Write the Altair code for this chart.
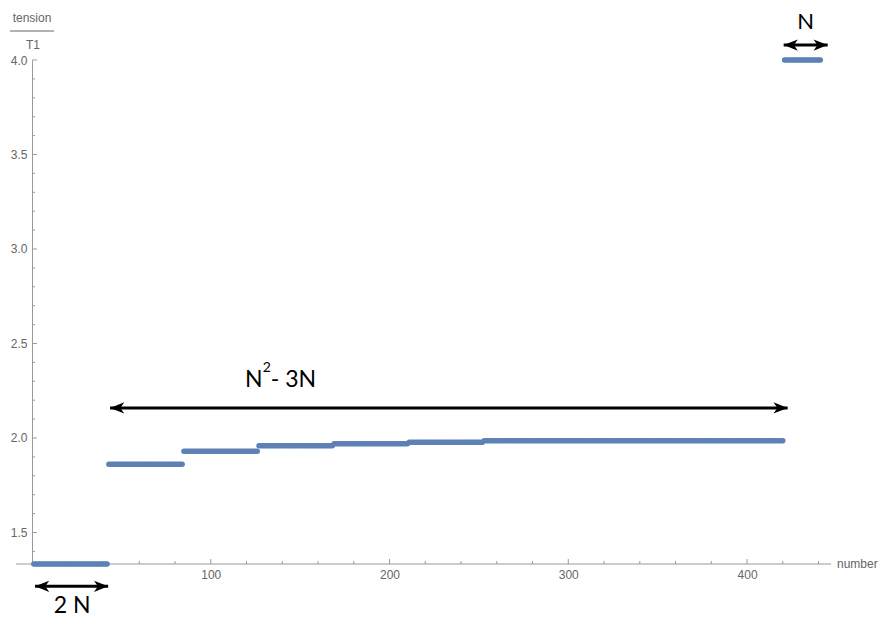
import altair as alt
import pandas as pd

# ---- data ----
seg_values = [1.3333, 1.861, 1.930, 1.959, 1.970, 1.978, 1.986, 4.0]
seg_counts = [42, 42, 42, 42, 42, 42, 168, 21]

x_major = [100, 200, 300, 400]
x_minor = [20, 40, 60, 80, 120, 140, 160, 180, 220, 240, 260, 280,
           320, 340, 360, 380, 420, 440]
y_major = [1.5, 2.0, 2.5, 3.0, 3.5, 4.0]
y_minor = [1.4, 1.6, 1.7, 1.8, 1.9, 2.1, 2.2, 2.3, 2.4, 2.6, 2.7, 2.8, 2.9,
           3.1, 3.2, 3.3, 3.4, 3.6, 3.7, 3.8, 3.9]

arrow_x1 = [1.7, 43.7, 420.5]
arrow_x2 = [42.6, 422.7, 445.1]
arrow_y = [1.215, 2.159, 4.079]

# annotation text pieces (the "2" of N² is a raised, smaller piece)
label_text = ["2 N", "N", "2", "- 3N", "N"]
label_x = [22.4, 124.0, 131.4, 133.6, 432.8]
label_y = [1.112, 2.307, 2.372, 2.307, 4.203]
label_size = [23, 23, 14, 23, 22]
label_align = ["center", "center", "center", "left", "center"]

X_DOM = [0, 452]
Y_DOM = [1.3333, 4.0]
W, H = 808, 504

# ---- build tables ----
xs, ys = [], []
n = 1
for v, c in zip(seg_values, seg_counts):
    for _ in range(c):
        xs.append(n)
        ys.append(v)
        n += 1
pts = pd.DataFrame({"number": xs, "tension": ys})

xsc = alt.Scale(domain=X_DOM, nice=False, zero=False)
ysc = alt.Scale(domain=Y_DOM, nice=False, zero=False)

AX = "#9a9a9a"
LAB = "#666666"
FONT = "Liberation Sans"
AFONT = "Lato"

points = alt.Chart(pts).mark_circle(size=30, color="#5E81B5", opacity=1).encode(
    x=alt.X("number:Q", scale=xsc,
            axis=alt.Axis(values=x_major, ticks=False, domain=False, grid=False,
                          title=None, labelColor=LAB, labelFont=FONT,
                          labelFontSize=12, labelPadding=5, labelFlush=False)),
    y=alt.Y("tension:Q", scale=ysc,
            axis=alt.Axis(values=y_major, format=".1f", ticks=False, domain=True,
                          domainColor=AX, domainWidth=1, grid=False, title=None,
                          labelColor=LAB, labelFont=FONT, labelFontSize=12,
                          labelPadding=5, labelFlush=False)),
)

# x axis line (extends slightly left of the y axis as in the reference)
xline = alt.Chart(pd.DataFrame({"a": [-9], "b": [447], "y": [Y_DOM[0]]})).mark_rule(
    color=AX, strokeWidth=1).encode(
    x=alt.X("a:Q", scale=xsc), x2="b:Q", y=alt.Y("y:Q", scale=ysc))

xmaj = alt.Chart(pd.DataFrame({"v": x_major})).mark_rule(color=AX).encode(
    x=alt.X("v:Q", scale=xsc), y=alt.value(H), y2=alt.value(H - 5))
xmin = alt.Chart(pd.DataFrame({"v": x_minor})).mark_rule(color=AX).encode(
    x=alt.X("v:Q", scale=xsc), y=alt.value(H), y2=alt.value(H - 3))
ymaj = alt.Chart(pd.DataFrame({"v": y_major})).mark_rule(color=AX).encode(
    y=alt.Y("v:Q", scale=ysc), x=alt.value(0), x2=alt.value(5))
ymin = alt.Chart(pd.DataFrame({"v": y_minor})).mark_rule(color=AX).encode(
    y=alt.Y("v:Q", scale=ysc), x=alt.value(0), x2=alt.value(3))

# arrows
arr = pd.DataFrame({"x1": arrow_x1, "x2": arrow_x2, "y": arrow_y})
shaft = alt.Chart(arr).mark_rule(color="black", strokeWidth=3).encode(
    x=alt.X("x1:Q", scale=xsc), x2="x2:Q", y=alt.Y("y:Q", scale=ysc))
RIGHT = "M0,0 L-2,-0.8 L-1.45,0 L-2,0.8 Z"
LEFT = "M0,0 L2,-0.8 L1.45,0 L2,0.8 Z"
head_r = alt.Chart(arr).mark_point(shape=RIGHT, size=200, filled=True,
                                   color="black", opacity=1, strokeWidth=0).encode(
    x=alt.X("x2:Q", scale=xsc), y=alt.Y("y:Q", scale=ysc))
head_l = alt.Chart(arr).mark_point(shape=LEFT, size=200, filled=True,
                                   color="black", opacity=1, strokeWidth=0).encode(
    x=alt.X("x1:Q", scale=xsc), y=alt.Y("y:Q", scale=ysc))

lab = pd.DataFrame({"t": label_text, "lx": label_x, "ly": label_y,
                    "s": label_size, "a": label_align})
label_layers = []
for al in ["center", "left"]:
    label_layers.append(
        alt.Chart(lab).transform_filter(alt.datum.a == al).mark_text(
            font=AFONT, color="black", align=al, baseline="middle").encode(
            x=alt.X("lx:Q", scale=xsc), y=alt.Y("ly:Q", scale=ysc), text="t:N",
            size=alt.Size("s:Q", scale=None, legend=None)))

# axis titles
one = pd.DataFrame({"k": [0]})
t_num = alt.Chart(one).mark_text(text="tension", font=FONT, fontSize=12, color=LAB,
                                 align="center", baseline="middle").encode(
    x=alt.value(0), y=alt.value(-42))
t_bar = alt.Chart(one).mark_rule(color=LAB, strokeWidth=1).encode(
    x=alt.value(-22), x2=alt.value(22), y=alt.value(-29))
t_den = alt.Chart(one).mark_text(text="T1", font=FONT, fontSize=12, color=LAB,
                                 align="center", baseline="middle").encode(
    x=alt.value(1), y=alt.value(-15))
t_x = alt.Chart(one).mark_text(text="number", font=FONT, fontSize=12, color=LAB,
                               align="left", baseline="middle").encode(
    x=alt.value(805), y=alt.value(H))

chart = alt.layer(
    xline, xmaj, xmin, ymaj, ymin, points, shaft, head_l, head_r, *label_layers,
    t_num, t_bar, t_den, t_x
).properties(
    width=W, height=H,
    autosize=alt.AutoSizeParams(type="none"),
    padding={"left": 24, "top": 52, "right": 44, "bottom": 53},
).configure(background="white").configure_view(stroke=None)

chart.save("out.html", embed_options={"renderer": "svg", "actions": False})
